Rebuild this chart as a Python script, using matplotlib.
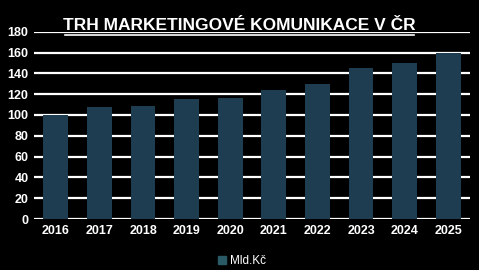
import matplotlib.pyplot as plt

years = ["2016", "2017", "2018", "2019", "2020", "2021", "2022", "2023", "2024", "2025"]
values = [100, 108, 109, 115, 116, 124, 130, 145, 150, 160]
yticks = [0, 20, 40, 60, 80, 100, 120, 140, 160, 180]

plt.rcParams['font.family'] = ['Liberation Sans', 'DejaVu Sans']

fig = plt.figure(figsize=(4.79, 2.70), dpi=100, facecolor="black")
ax = fig.add_axes([34 / 479, 1 - 219 / 270, 436 / 479, (219 - 31.7) / 270])
ax.set_facecolor("black")

bars = ax.bar(years, values, width=0.57, color="#1e3d50", zorder=3, label="Mld.Kč")

ax.set_ylim(0, 180)
ax.set_xlim(-0.5, len(years) - 0.5)
ax.set_yticks(yticks)
ax.grid(axis="y", color="white", linewidth=1.6, zorder=1)
ax.tick_params(axis="both", colors="white", labelsize=9, length=0, pad=4)
for lab in ax.get_xticklabels() + ax.get_yticklabels():
    lab.set_fontweight("bold")
for s in ax.spines.values():
    s.set_visible(False)

fig.text(0.5, 1 - 26 / 270, "TRH MARKETINGOVÉ KOMUNIKACE V ČR", color="white",
         fontsize=12.5, fontweight="bold", ha="center", va="center")
fig.add_artist(plt.Line2D([65 / 479, 414 / 479], [1 - 35 / 270, 1 - 35 / 270],
                          color="white", linewidth=1.2))

leg = fig.legend(handles=[bars], labels=["Mld.Kč"], loc="center",
                 bbox_to_anchor=(242 / 479, 1 - 261 / 270), frameon=False,
                 fontsize=8.5, handlelength=0.7, handleheight=0.7, handletextpad=0.3)
for t in leg.get_texts():
    t.set_color("white")
leg.legend_handles[0].set_color("#2a5a66")

fig.savefig("out.png", dpi=100, facecolor="black")
